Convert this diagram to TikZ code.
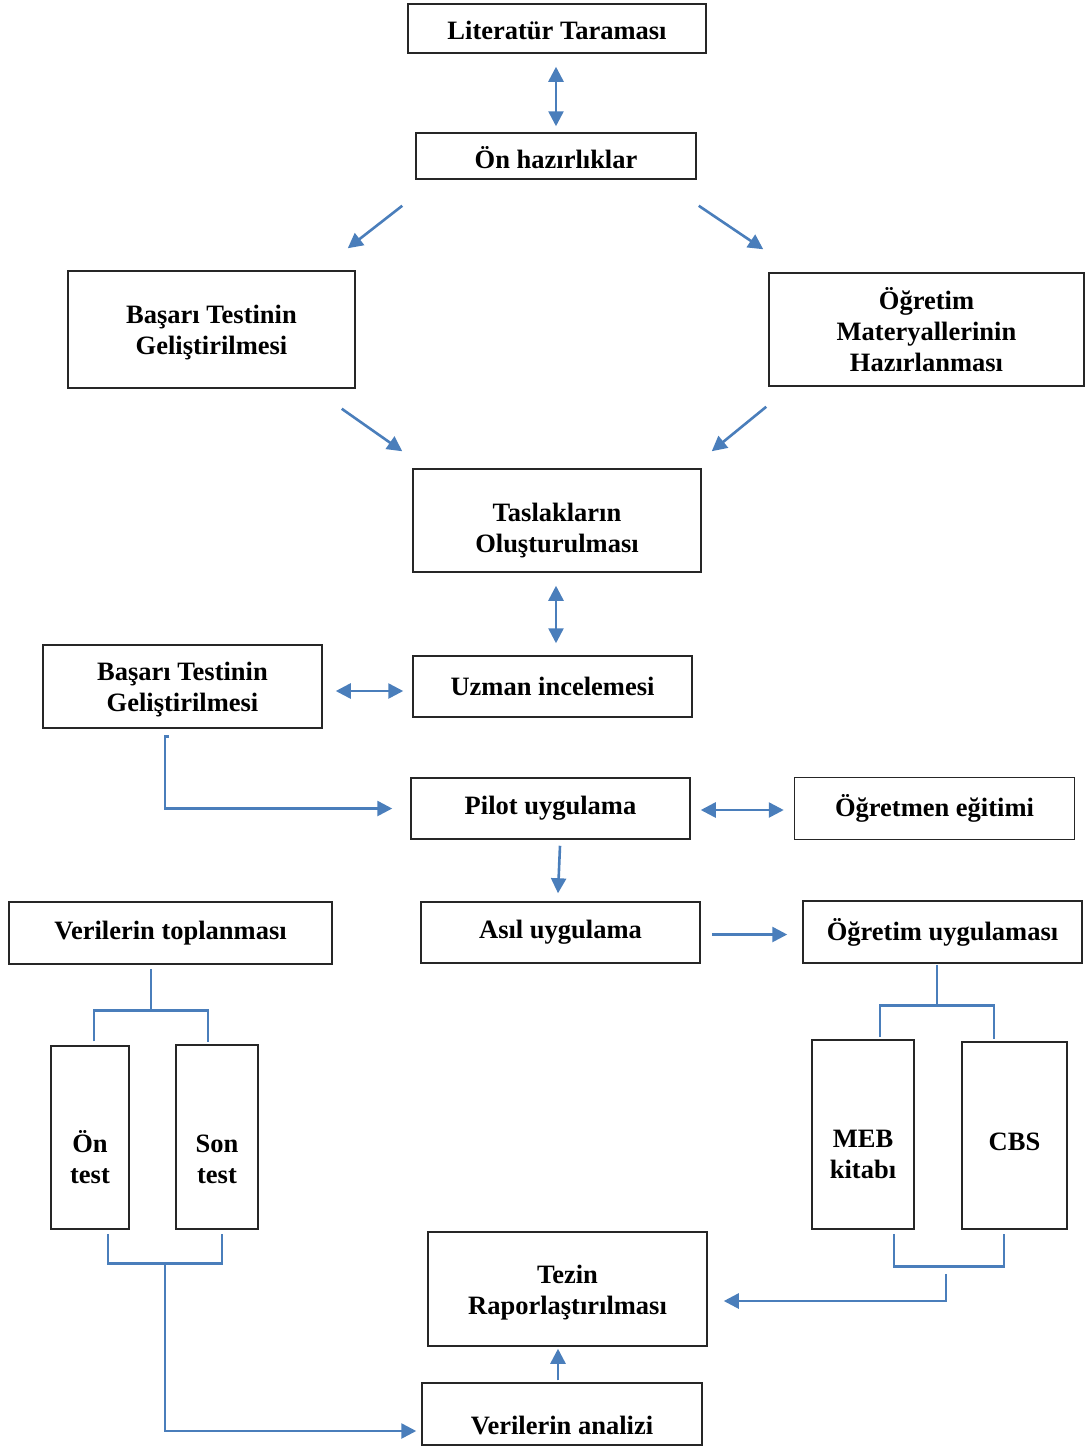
\documentclass[tikz,border=0pt]{standalone}
\usepackage{fontspec}
\setmainfont{Liberation Serif}
\usetikzlibrary{arrows.meta,calc,positioning}
\definecolor{flowblue}{RGB}{74,126,187}
\newcommand{\lowered}[2]{\raisebox{-#1}[\height][\depth]{#2}}
\newcommand{\twolines}[1]{\begin{tabular}{@{}c@{}}#1\end{tabular}}

\begin{document}
\begin{tikzpicture}[x=0.5pt, y=-0.5pt,
        box/.style={draw=black!85, line width=0.75pt, rectangle, align=center, inner sep=2pt,
            font=\fontsize{13.25}{15.5}\selectfont\bfseries},
        flow/.style={draw=flowblue, line width=1.3pt},
        >={Triangle[length=7.5pt,width=7.5pt]}
    ]
        \useasboundingbox (0,0) rectangle (1090,1447);

        % Preparation
        \node[box, minimum width=149pt, minimum height=24.5pt] (lit) at (557,28.5) {\lowered{1pt}{Literatür Taraması}};
        \node[box, minimum width=140pt, minimum height=23pt] (on) at (556,156) {\lowered{1pt}{Ön hazırlıklar}};
        \node[box, minimum width=143.5pt, minimum height=58.5pt] (bas1) at (211.5,329.5) {\lowered{1.5pt}{\twolines{Başarı Testinin\\Geliştirilmesi}}};
        \node[box, minimum width=157.5pt, minimum height=56.5pt] (ogmat) at (926.5,329.5) {Öğretim\\Materyallerinin\\Hazırlanması};
        \node[box, minimum width=144pt, minimum height=51.5pt] (tas) at (557,520.5) {\lowered{5pt}{\twolines{Taslakların\\Oluşturulması}}};

        % Review and pilot
        \node[box, minimum width=139.5pt, minimum height=41.5pt] (bas2) at (182.5,686.5) {\lowered{1.5pt}{\twolines{Başarı Testinin\\Geliştirilmesi}}};
        \node[box, minimum width=139.5pt, minimum height=30.5pt] (uzm) at (552.5,686.5) {Uzman incelemesi};
        \node[box, minimum width=139.5pt, minimum height=30.5pt] (pil) at (550.5,808.5) {Pilot uygulama};
        \node[box, minimum width=140pt, minimum height=31pt, right=51.5pt of pil] (ogr) {Öğretmen eğitimi};

        % Application
        \node[box, minimum width=161.5pt, minimum height=31pt] (vtop) at (170.5,933) {Verilerin toplanması};
        \node[box, minimum width=139.5pt, minimum height=30.5pt] (asil) at (560.5,932.5) {Asıl uygulama};
        \node[box, minimum width=139.5pt, minimum height=31pt] (ogu) at (942.5,932) {Öğretim uygulaması};
        \node[box, minimum width=39pt, minimum height=91.5pt] (ontest) at (90,1137.5) {\lowered{12pt}{\twolines{Ön\\test}}};
        \node[box, minimum width=41pt, minimum height=92pt] (sontest) at (217,1137) {\lowered{12.5pt}{\twolines{Son\\test}}};
        \node[box, minimum width=51pt, minimum height=94.5pt] (meb) at (863,1134.5) {\lowered{11pt}{\twolines{MEB\\kitabı}}};
        \node[box, minimum width=52.5pt, minimum height=93.5pt] (cbs) at (1014.5,1135.5) {\lowered{3pt}{CBS}};

        % Results
        \node[box, minimum width=139.5pt, minimum height=57pt] (tez) at (567.5,1289) {\lowered{2pt}{\twolines{Tezin\\Raporlaştırılması}}};
        \node[box, minimum width=140pt, minimum height=31pt] (van) at (562,1414) {\lowered{5.5pt}{Verilerin analizi}};

        % Top arrows
        \draw[flow, <->] ($(lit.south)+(-1,13)$) -- ($(on.north)+(0,-6)$);
        \draw[flow, ->] ($(on.south west)+(-13,26)$) -- ($(bas1.north east)+(-8,-22)$);
        \draw[flow, ->] ($(on.south east)+(2,26)$) -- ($(ogmat.north west)+(-5,-23)$);
        \draw[flow, ->] ($(bas1.south east)+(-14,20)$) -- ($(tas.north west)+(-10,-17)$);
        \draw[flow, ->] ($(ogmat.south west)+(-2,20)$) -- ($(tas.north east)+(10,-17)$);

        % Middle arrows
        \draw[flow, <->] ($(tas.south)+(-1,13)$) -- ($(uzm.north)+(3.5,-12)$);
        \draw[flow, <->] ($(bas2.east)+(13,4.5)$) -- ($(uzm.west)+(-9,4.5)$);
        \draw[flow, ->] ($(bas2.south)+(-13.5,8)$) -- ++(-4,0) |- ($(pil.west)+(-18,0)$);
        \draw[flow, <->] ($(pil.east)+(10,1.5)$) -- ($(ogr.west)+(-10,1.5)$);
        \draw[flow, ->] ($(pil.south)+(9.5,6)$) -- ($(asil.north)+(-2.5,-8)$);
        \draw[flow, ->] ($(asil.east)+(11,2)$) -- ($(ogu.west)+(-15,2.5)$);

        % Left branch
        \draw[flow] ($(vtop.south)+(-19.5,4)$) -- ++(0,43);
        \draw[flow] ($(ontest.north)+(4,-4)$) -- ++(0,-31) -| ($(sontest.north)+(-9,-2)$);
        \draw[flow] ($(ontest.south)+(18,4)$) -- ++(0,30) -| ($(sontest.south)+(5,4)$);
        \coordinate (leftjoin) at ($(ontest.south)+(75,34)$);
        \draw[flow, ->] (leftjoin) |- ($(van.west)+(-5,17)$);

        % Right branch
        \draw[flow] ($(ogu.south)+(-5.5,1)$) -- ++(0,42);
        \draw[flow] ($(meb.north)+(17,-2)$) -- ++(0,-32) -| ($(cbs.north)+(-20.5,-2)$);
        \draw[flow] ($(meb.south)+(31,4)$) -- ++(0,33) -| ($(cbs.south)+(-10.5,4)$);
        \coordinate (rightjoin) at ($(meb.south)+(83,44)$);
        \draw[flow, ->] (rightjoin) |- ($(tez.east)+(16,12)$);
        \draw[flow, ->] ($(van.north)+(-4,-2)$) -- ($(tez.south)+(-9.5,2)$);

    \end{tikzpicture}
\end{document}
